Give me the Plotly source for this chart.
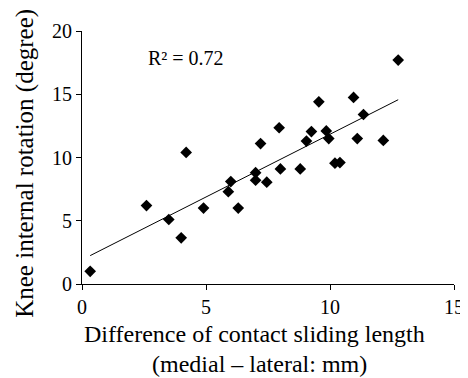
import numpy as np
import plotly.graph_objects as go

# Data
x_diff = [0.33, 2.6, 3.5, 4.0, 4.2, 4.9, 5.9, 6.0, 6.3, 7.0, 7.0, 7.2, 7.45, 7.95,
          8.0, 8.8, 9.05, 9.25, 9.55, 9.85, 9.95, 10.2, 10.4, 10.95, 11.1, 11.35,
          12.15, 12.75]
y_rot = [1.0, 6.2, 5.1, 3.65, 10.4, 6.0, 7.3, 8.1, 6.0, 8.8, 8.2, 11.1, 8.05, 12.35,
         9.1, 9.1, 11.3, 12.05, 14.4, 12.1, 11.5, 9.55, 9.6, 14.75, 11.5, 13.4,
         11.35, 17.7]
x_ticks = [0, 5, 10, 15]
y_ticks = [0, 5, 10, 15, 20]
r2_label = "R² = 0.72"
x_title_lines = ["Difference of contact sliding length", "(medial – lateral: mm)"]
y_title = "Knee internal rotation (degree)"

FONT = "Liberation Serif, Times New Roman, serif"

slope, intercept = np.polyfit(x_diff, y_rot, 1)
x_fit = [min(x_diff), max(x_diff)]
y_fit = [slope * v + intercept for v in x_fit]

fig = go.Figure()
fig.add_trace(go.Scatter(x=x_diff, y=y_rot, mode="markers",
                         marker=dict(symbol="diamond", size=9, color="black"),
                         showlegend=False))
fig.add_trace(go.Scatter(x=x_fit, y=y_fit, mode="lines",
                         line=dict(color="black", width=1), showlegend=False))

fig.add_annotation(x=2.59, y=17.9, xanchor="left", yanchor="middle", text=r2_label,
                   showarrow=False, font=dict(family=FONT, size=20, color="black"))

# axis titles
fig.add_annotation(xref="paper", yref="paper", x=0.463, y=-0.197,
                   xanchor="center", yanchor="middle", text=x_title_lines[0],
                   showarrow=False, font=dict(family=FONT, size=24, color="black"))
fig.add_annotation(xref="paper", yref="paper", x=0.476, y=-0.318,
                   xanchor="center", yanchor="middle", text=x_title_lines[1],
                   showarrow=False, font=dict(family=FONT, size=24, color="black"))
fig.add_annotation(xref="paper", yref="paper", x=-0.154, y=0.478,
                   xanchor="center", yanchor="middle", text=y_title, textangle=-90,
                   showarrow=False, font=dict(family=FONT, size=25, color="black"))

fig.update_layout(
    width=468, height=378,
    margin=dict(l=74, r=18, t=20, b=102),
    paper_bgcolor="white", plot_bgcolor="white",
    font=dict(family=FONT, color="black", size=20),
    xaxis=dict(range=[0, 15], tickvals=x_ticks, showgrid=False, zeroline=False,
               showline=True, linecolor="black", linewidth=1,
               ticks="outside", ticklen=5, tickcolor="black",
               tickfont=dict(size=20)),
    yaxis=dict(range=[0, 20], tickvals=y_ticks, showgrid=False, zeroline=False,
               showline=True, linecolor="black", linewidth=1,
               ticks="outside", ticklen=5, tickcolor="black",
               tickfont=dict(size=20)),
)

fig.write_html("out.html")
